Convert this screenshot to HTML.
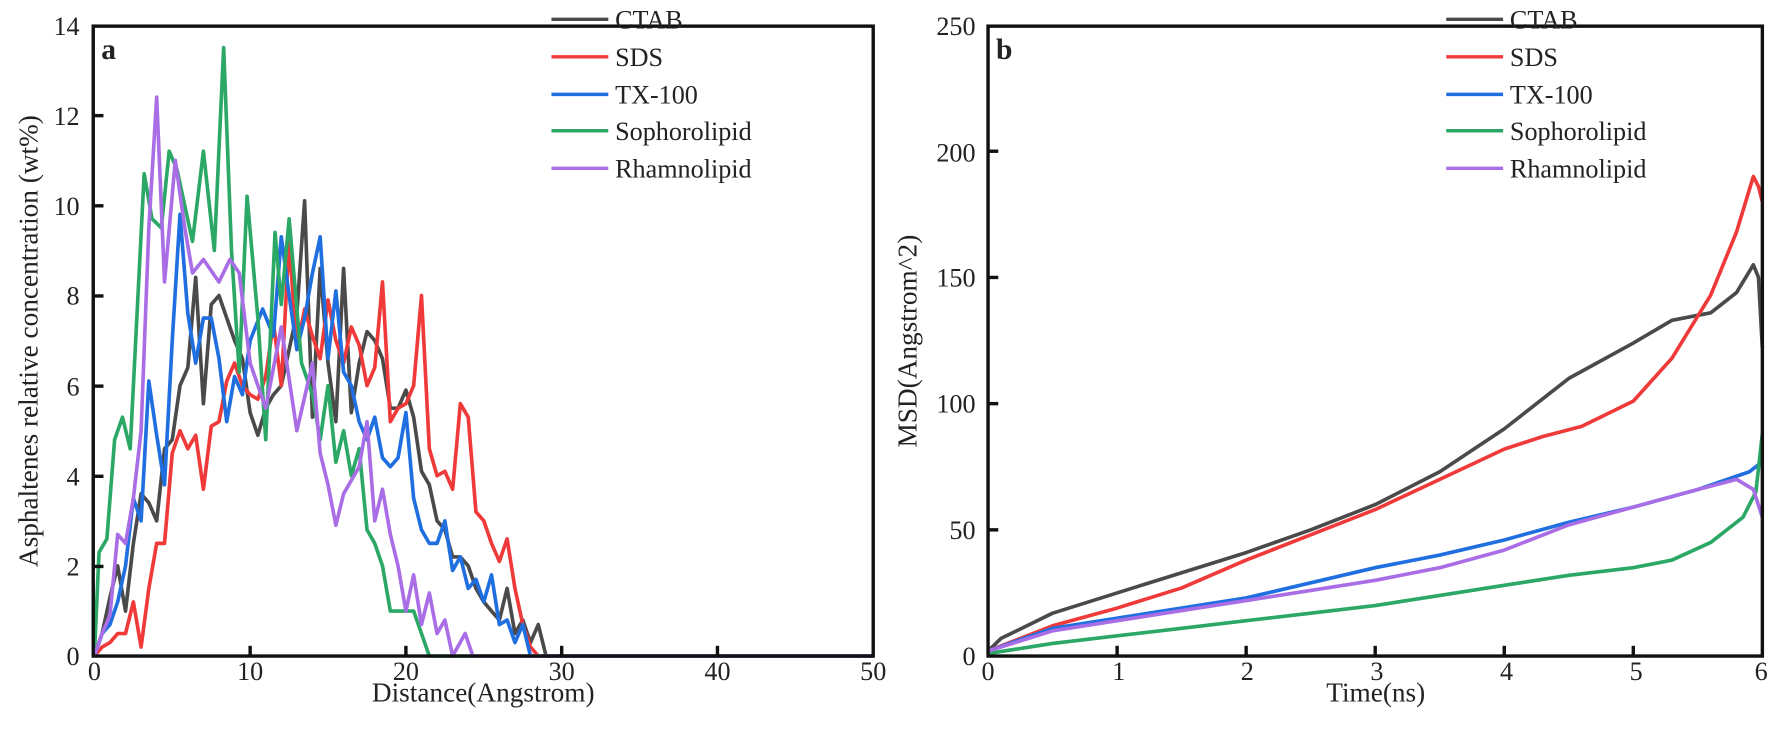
<!DOCTYPE html>
<html><head><meta charset="utf-8"><style>
html,body{margin:0;padding:0;background:#fff;}
svg{display:block;}
text{font-family:"Liberation Serif",serif;fill:#222;}
</style></head><body>
<svg id="s" width="1786" height="746" viewBox="0 0 1786 746" xmlns="http://www.w3.org/2000/svg">
<rect width="1786" height="746" fill="#fff"/>
<g transform="scale(1.137)">
<g id="plots" fill="none" stroke-width="3.2" stroke-linejoin="round"></g>
<rect x="82" y="23" width="686" height="554" fill="none" stroke="#111" stroke-width="3"/>
<g stroke="#111" stroke-width="3">
<line x1="82" y1="101.7" x2="91" y2="101.7"/><line x1="82" y1="181" x2="91" y2="181"/><line x1="82" y1="260.3" x2="91" y2="260.3"/><line x1="82" y1="339.6" x2="91" y2="339.6"/><line x1="82" y1="418.9" x2="91" y2="418.9"/><line x1="82" y1="498.2" x2="91" y2="498.2"/>
<line x1="220" y1="577" x2="220" y2="568"/><line x1="357" y1="577" x2="357" y2="568"/><line x1="494" y1="577" x2="494" y2="568"/><line x1="631" y1="577" x2="631" y2="568"/>
</g>
<g font-size="23" text-anchor="end">
<text x="70" y="31">14</text><text x="70" y="110">12</text><text x="70" y="189">10</text><text x="70" y="268">8</text><text x="70" y="348">6</text><text x="70" y="427">4</text><text x="70" y="506">2</text><text x="70" y="585">0</text>
</g>
<g font-size="23" text-anchor="middle">
<text x="83" y="598">0</text><text x="220" y="598">10</text><text x="357" y="598">20</text><text x="494" y="598">30</text><text x="631" y="598">40</text><text x="768" y="598">50</text>
<text x="425" y="617" font-size="24">Distance(Angstrom)</text>
<text transform="translate(33,300) rotate(-90)" font-size="24">Asphaltenes relative concentration (wt%)</text>
</g>
<text x="89" y="52" font-size="26" font-weight="bold">a</text>
<rect x="869" y="23" width="681" height="554" fill="none" stroke="#111" stroke-width="3"/>
<g stroke="#111" stroke-width="3">
<line x1="869" y1="466" x2="878" y2="466"/><line x1="869" y1="355" x2="878" y2="355"/><line x1="869" y1="244" x2="878" y2="244"/><line x1="869" y1="133" x2="878" y2="133"/>
<line x1="982.5" y1="577" x2="982.5" y2="568"/><line x1="1096" y1="577" x2="1096" y2="568"/><line x1="1209.5" y1="577" x2="1209.5" y2="568"/><line x1="1323" y1="577" x2="1323" y2="568"/><line x1="1436.5" y1="577" x2="1436.5" y2="568"/>
</g>
<g font-size="23" text-anchor="end">
<text x="858" y="31">250</text><text x="858" y="142">200</text><text x="858" y="252">150</text><text x="858" y="363">100</text><text x="858" y="474">50</text><text x="858" y="585">0</text>
</g>
<g font-size="23" text-anchor="middle">
<text x="869" y="598">0</text><text x="984" y="598">1</text><text x="1097" y="598">2</text><text x="1211" y="598">3</text><text x="1325" y="598">4</text><text x="1439" y="598">5</text><text x="1549" y="598">6</text>
<text x="1210" y="617" font-size="24">Time(ns)</text>
<text transform="translate(806,300) rotate(-90)" font-size="24">MSD(Angstrom^2)</text>
</g>
<text x="876" y="52" font-size="26" font-weight="bold">b</text>
<g id="leg"></g>
</g>
</svg>
<script>
var cols=["#4a4a4a","#f03a3a","#1f6fe0","#2ca866","#a96ee6"];
var names=["CTAB","SDS","TX-100","Sophorolipid","Rhamnolipid"];
function P(a){var o=[];for(var i=0;i<a.length;i+=2)o.push([a[i],a[i+1]]);return o;}
var A=[
P([0,0,.5,.5,1,1.3,1.5,2,2,1,2.5,2.5,3,3.6,3.5,3.4,4,3,4.5,4.6,5,4.8,5.5,6,6,6.4,6.5,8.4,7,5.6,7.5,7.8,8,8,8.5,7.5,9,7,9.5,6.6,10,5.4,10.5,4.9,11,5.5,11.5,5.8,12,6,12.5,6.8,13,7.6,13.5,10.1,14,5.3,14.5,8.6,15,6.5,15.5,5.2,16,8.6,16.5,5.4,17,6.5,17.5,7.2,18,7,18.5,6.6,19,5.5,19.5,5.5,20,5.9,20.5,5.3,21,4.1,21.5,3.8,22,3,22.5,2.8,23,2.2,23.5,2.2,24,2,24.5,1.5,25,1.2,25.5,1,26,.8,26.5,1.5,27,.5,27.5,.8,28,.3,28.5,.7,29,0,50,0]),
P([0,0,.5,.2,1,.3,1.5,.5,2,.5,2.5,1.2,3,.2,3.5,1.5,4,2.5,4.5,2.5,5,4.5,5.5,5,6,4.6,6.5,4.9,7,3.7,7.5,5.1,8,5.2,8.5,6.1,9,6.5,9.5,6,10,5.8,10.5,5.7,11,6.2,11.5,7.4,12,6,12.5,9.2,13,6.8,13.5,7.7,14,7.1,14.5,6.6,15,7.9,15.5,7,16,6.5,16.5,7.3,17,6.9,17.5,6,18,6.4,18.5,8.3,19,5.2,19.5,5.5,20,5.6,20.5,6,21,8,21.5,4.6,22,4,22.5,4.1,23,3.7,23.5,5.6,24,5.3,24.5,3.2,25,3,25.5,2.5,26,2.1,26.5,2.6,27,1.5,27.5,.7,28,.2,28.5,0,50,0]),
P([0,0,.5,.5,1,.7,1.5,1.2,2,2,2.5,3.5,3,3,3.5,6.1,4,4.9,4.5,3.8,5,7,5.5,9.8,6,7.6,6.5,6.5,7,7.5,7.5,7.5,8,6.6,8.5,5.2,9,6.2,9.5,5.8,10,7,10.8,7.7,11.5,7.1,12,9.3,12.5,8,13,6.8,13.5,7.5,14,8.5,14.5,9.3,15,6.6,15.5,8.1,16,6.3,16.5,6,17,5.2,17.5,4.8,18,5.3,18.5,4.4,19,4.2,19.5,4.4,20,5.4,20.5,3.5,21,2.8,21.5,2.5,22,2.5,22.5,3,23,1.9,23.5,2.2,24,1.5,24.5,1.7,25,1.2,25.5,1.8,26,.7,26.5,.8,27,.3,27.5,.7,28,0,50,0]),
P([0,0,.3,2.3,.8,2.6,1.3,4.8,1.8,5.3,2.3,4.6,3.2,10.7,3.7,9.7,4.3,9.5,4.8,11.2,5.3,10.8,6.3,9.2,7,11.2,7.7,9,8.3,13.5,8.8,9,9.3,6.3,9.8,10.2,10.5,7.5,11,4.8,11.6,9.4,12,7.8,12.5,9.7,13.3,6.5,14,5.8,14.5,4.8,15,6,15.5,4.3,16,5,16.5,4,17,4.6,17.5,2.8,18,2.5,18.5,2,19,1,20.5,1,21,.5,21.5,0,50,0]),
P([0,0,.5,.5,1,.9,1.5,2.7,2,2.5,2.5,3.5,3,5,3.5,9.5,4,12.4,4.5,8.3,5.2,11,5.8,9.5,6.3,8.5,7,8.8,8,8.3,8.7,8.8,9.3,8.5,10,6.5,11,5.5,12,7.3,13,5,14,6.5,14.5,4.5,15,3.8,15.5,2.9,16,3.6,17,4.2,17.5,5.2,18,3,18.5,3.7,19,2.7,19.5,2,20,1,20.5,1.8,21,.7,21.5,1.4,22,.5,22.5,.8,23,0,23.8,.5,24.3,0,50,0])
];
var B=[
P([0,2,.1,7,.5,17,1,25,1.5,33,2,41,2.5,50,3,60,3.5,73,4,90,4.5,110,5,124,5.3,133,5.6,136,5.8,144,5.93,155,5.97,150,6,122]),
P([0,2,.5,12,1,19,1.5,27,2,38,2.5,48,3,58,3.5,70,4,82,4.3,87,4.6,91,5,101,5.3,118,5.6,143,5.8,168,5.93,190,5.97,186,6,180]),
P([0,2,.5,11,1,15,1.5,19,2,23,2.5,29,3,35,3.5,40,4,46,4.5,53,5,59,5.5,66,5.9,73,6,77]),
P([0,1,.5,5,1,8,1.5,11,2,14,2.5,17,3,20,3.5,24,4,28,4.5,32,5,35,5.3,38,5.6,45,5.85,55,5.95,65,6,88]),
P([0,2,.5,10,1,14,1.5,18,2,22,2.5,26,3,30,3.5,35,4,42,4.5,52,5,59,5.5,66,5.8,70,5.93,66,6,55])
];
var ns="http://www.w3.org/2000/svg",g=document.getElementById("plots");
function draw(pts,fx,fy,c){var d=pts.map(function(p,i){return (i?"L":"M")+fx(p[0]).toFixed(1)+" "+fy(p[1]).toFixed(1);}).join("");var e=document.createElementNS(ns,"path");e.setAttribute("d",d);e.setAttribute("stroke",c);g.appendChild(e);}
[0,1,2,3,4].forEach(function(i){draw(A[i],function(x){return 83+x*13.7;},function(y){return 577-y*39.64;},cols[i]);});
[0,1,2,3,4].forEach(function(i){draw(B[i],function(x){return 869+x*113.5;},function(y){return 577-y*2.22;},cols[i]);});
var L=document.getElementById("leg"),ys=[17,50,83,115,148];
function leg(x0){for(var i=0;i<5;i++){var l=document.createElementNS(ns,"line");l.setAttribute("x1",x0);l.setAttribute("x2",x0+50);l.setAttribute("y1",ys[i]);l.setAttribute("y2",ys[i]);l.setAttribute("stroke",cols[i]);l.setAttribute("stroke-width","3");L.appendChild(l);var t=document.createElementNS(ns,"text");t.setAttribute("x",x0+56);t.setAttribute("y",ys[i]+8);t.setAttribute("font-size","23");t.textContent=names[i];L.appendChild(t);}}
leg(485);leg(1272);
</script>
</body></html>
